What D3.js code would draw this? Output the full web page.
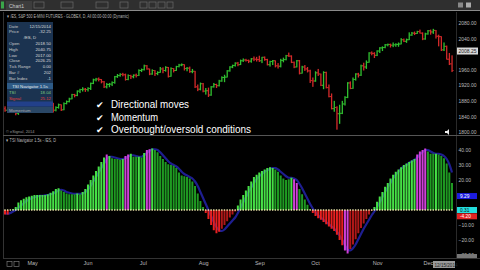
<!DOCTYPE html>
<html>
<head>
<meta charset="utf-8">
<script src="https://d3js.org/d3.v7.min.js"></script>
<style>
  body { margin: 0; background: #000; overflow: hidden; }
  text { font-family: "Liberation Sans", Arial, sans-serif; }
</style>
</head>
<body>
<svg id="chart" width="480" height="270"></svg>
<script>
// daily /ES bars, late Apr - mid Dec 2014
const opens = [1860,1856,1864,1860,1863,1848,1854,1863,
  1869,1868,1866,1870,1853,1863,1860,1863,1882,1882,1873,1856,1863,1870,1857,1873,1878,1885,1896,1894,1905,
  1909,1910,1909,1912,1925,1934,1936,1935,1929,1916,1922,1923,1927,1942,1945,1948,1947,1935,1945,1942,1946,
  1945,1958,1960,1970,1962,1949,1958,1950,1953,1962,1958,1966,1943,1963,1958,1968,1972,1973,1963,1964,1955,1956,
  1916,1910,1924,1905,1906,1895,1916,1922,1919,1931,1940,1941,1957,1967,1971,1977,1973,1983,1985,1984,1982,
  1988,1987,1986,1983,1992,1986,1973,1981,1983,1970,1969,1984,1986,1996,1995,1979,1967,1983,1951,1967,1962,
  1957,1932,1931,1952,1949,1920,1953,1914,1891,1860,1863,1847,1848,1872,1889,1926,1912,1935,1949,1946,1970,1967,1979,
  2003,2002,1997,2008,2016,2017,2024,2025,2023,2024,2025,2026,2037,2033,2037,2049,2054,2053,2058,
  2054,2039,2052,2060,2057,2061,2046,2045,2011,2020,1987,1975];
const highs = [1866,1866,1867,1868,1864,1858,1866,1872,
  1873,1872,1873,1871,1866,1867,1866,1884,1886,1884,1875,1866,1873,1871,1876,1881,1888,1898,1898,1907,1911,
  1915,1913,1915,1927,1937,1939,1940,1936,1931,1926,1926,1930,1944,1949,1951,1952,1950,1948,1947,1948,1950,
  1961,1963,1973,1972,1963,1961,1959,1956,1967,1966,1969,1967,1966,1964,1970,1975,1976,1974,1967,1968,1962,1957,
  1922,1927,1926,1913,1914,1918,1926,1924,1934,1943,1947,1959,1969,1973,1979,1980,1986,1989,1988,1986,1990,
  1994,1993,1996,1993,1994,1988,1983,1985,1984,1977,1988,1991,1998,2004,1997,1981,1985,1985,1970,1972,1967,
  1960,1940,1956,1962,1950,1956,1955,1922,1899,1880,1866,1870,1880,1892,1928,1930,1940,1951,1952,1973,1978,1984,2005,
  2007,2005,2010,2018,2020,2026,2027,2027,2030,2028,2030,2041,2040,2040,2056,2057,2058,2060,2063,
  2056,2055,2062,2063,2065,2062,2050,2046,2030,2022,2003,1997];
const lows = [1852,1854,1856,1855,1843,1844,1852,1860,
  1862,1860,1858,1850,1851,1855,1856,1862,1878,1870,1850,1853,1860,1854,1856,1871,1876,1884,1889,1892,1900,
  1904,1903,1904,1908,1923,1930,1930,1925,1913,1912,1915,1918,1924,1939,1942,1943,1932,1933,1936,1938,1940,
  1944,1954,1958,1960,1946,1947,1944,1946,1952,1951,1955,1940,1942,1953,1957,1966,1969,1958,1956,1952,1951,1913,
  1905,1907,1902,1896,1890,1893,1914,1913,1917,1929,1928,1940,1955,1964,1968,1969,1972,1980,1981,1977,1978,
  1982,1981,1980,1977,1983,1971,1968,1972,1966,1963,1966,1979,1984,1993,1977,1964,1966,1948,1950,1957,1953,
  1926,1916,1929,1944,1918,1910,1912,1889,1858,1852,1806,1821,1846,1868,1887,1910,1911,1932,1940,1944,1958,1962,1978,
  1997,1990,1995,2003,2008,2015,2020,2017,2018,2019,2019,2025,2031,2029,2036,2047,2049,2052,2053,
  2036,2037,2050,2050,2052,2040,2020,2008,2008,1986,1972,1954];
const closes = [1856,1864,1860,1863,1848,1854,1863,1869,
  1868,1866,1870,1853,1863,1860,1863,1882,1882,1873,1856,1863,1870,1857,1873,1878,1885,1896,1894,1905,1909,
  1910,1909,1912,1925,1934,1936,1935,1929,1916,1922,1923,1927,1942,1945,1948,1947,1935,1945,1942,1946,1945,
  1958,1960,1970,1962,1949,1958,1950,1953,1962,1958,1966,1943,1963,1958,1968,1972,1973,1963,1964,1955,1956,1916,
  1910,1924,1905,1906,1895,1916,1922,1919,1931,1940,1941,1957,1967,1971,1977,1973,1983,1985,1984,1982,1988,
  1987,1986,1983,1992,1986,1973,1981,1983,1970,1969,1984,1986,1996,1995,1979,1967,1983,1951,1967,1962,1957,
  1932,1931,1952,1949,1920,1953,1914,1891,1860,1863,1847,1848,1872,1889,1926,1912,1935,1949,1946,1970,1967,1979,2003,
  2002,1997,2008,2016,2017,2024,2025,2023,2024,2025,2026,2037,2033,2037,2049,2054,2053,2058,2054,
  2039,2052,2060,2057,2061,2046,2045,2011,2020,1987,1975,1958];

// TSI Navigator histogram + its signal line
const tsi = [-3,-3,0,0.5,2,5,6.5,7.5,8.5,9,
  9.5,10,10,10,10,10,10.5,11.5,12.5,14,
  14.5,13,12,11,10.5,10.5,10.5,11,10.5,12,
  14,17,20,23,26,29,32,35,37,36,
  34.5,34,34,33.5,34,36,37,37.5,35.5,35.5,
  35.5,35,38,40,40.5,41,40,38.5,36,34,
  32,30.5,30,29.5,28,25,23,22.5,22,21,
  19,16,11,6,2,-2,-6,-10,-13.5,-15.5,
  -14.5,-12.5,-10,-7.5,-5,-3,-1,3,7,10,
  13,16,19,22,23.5,25,26,27,28,28.5,
  28,27,25.5,23,21,20,20.5,21.5,20.5,18,
  14,10.5,7,3.5,0.5,-2,-4,-5.5,-6.5,-8,
  -9.5,-11,-12.5,-14,-16.5,-20,-23.5,-27,-29,-26,
  -23,-19.5,-15.5,-12,-9,-6,-3,-0.5,2,5.5,
  9,12,15.5,18,21,23.5,25.5,27,28.5,30,
  31,32,33,34,37,39,40,41,39,37.5,
  37.5,37.5,37,36,34.5,31,25,18];
const signal = [-2,-2.5,-2,-1,0,1.5,3,4.5,6,7,
  8,8.5,9,9.5,9.5,9.8,10,10.5,11,12,
  13,13.5,13,12,11.5,11,10.8,10.8,10.8,11,
  12,13.5,16,19,22,25,28,31,34,35.5,
  35.5,35,34.5,34,34,34.5,35.5,36.5,36.5,36,
  35.5,35.5,36.5,38,39.5,40.5,40.5,40,38.5,36.5,
  34.5,32.5,31,30,29,27.5,25.5,24,23,22,
  21,19,16,12,8,4,0,-4,-8,-11.5,
  -13.5,-14,-13,-11,-9,-7,-5,-2,1.5,5,
  8.5,12,15,18,20.5,22.5,24,25.5,26.5,27.5,
  28,28,27,25.5,24,22.5,21.5,21.5,21,20,
  17.5,14.5,11,7.5,4,1,-1.5,-3.5,-5,-6.5,
  -8,-9.5,-11,-12.5,-14.5,-17,-20,-23.5,-26.5,-27,
  -25.5,-23,-19.5,-16,-12.5,-9.5,-6.5,-3.5,-1,2,
  5,8.5,12,15,18,21,23.5,25.5,27.5,29,
  30,31.5,32.5,33.5,35,37,38.5,40,40,39,
  38,37.5,37.5,37,36,34,30.5,25];
const tsiMagenta = [38,45,46,53,54,108,109,127,128,154,155,156,157];

const monthNames = ['May','Jun','Jul','Aug','Sep','Oct','Nov','Dec'];
const monthStarts = [8,29,50,72,93,114,137,156];
const priceTicks = [1800,1840,1880,1920,1960,2040,2080];
const tsiTicks = [40,30,20,-10,-20,-30];
const checkItems = ['Directional moves','Momentum','Overbought/oversold conditions'];
const checkWidths = [78,47,140];
const boxRows = [['Date','12/15/2014'],['Price','-32.25'],['','/ES, D'],['Open','2018.50'],
  ['High','2040.75'],['Low','2017.00'],['Close','2026.25'],['Tick Range','0.00'],
  ['Bar #','202'],['Bar Index','-1']];

const svg = d3.select('svg#chart');
const n = closes.length;
const x = d3.scaleLinear().domain([0, n - 1]).range([5, 452]);
const yP = d3.scaleLinear().domain([1800, 2080]).range([132, 23]);
const yT = d3.scaleLinear().domain([-30, 40]).range([255, 150]);
const idx = d3.range(n);

svg.append('rect').attr('width', 480).attr('height', 270).attr('fill', '#000');

// window title strip
const header = svg.append('g');
header.append('rect').attr('width', 480).attr('height', 10).attr('fill', '#2f2f2f');
header.append('rect').attr('x', 1).attr('y', 1.5).attr('width', 3).attr('height', 7).attr('fill', '#3aa64a');
header.append('rect').attr('x', 6).attr('y', 1).attr('width', 26).attr('height', 9).attr('fill', '#3d3d3d');
header.append('text').attr('x', 9).attr('y', 7.5).attr('font-size', 5).attr('fill', '#ccc').text('Chart1');
[[34, 10], [61, 12], [96, 12], [120, 8], [140, 7], [149, 7], [158, 7], [167, 6]].forEach(b => {
  header.append('rect').attr('x', b[0]).attr('y', 2).attr('width', b[1]).attr('height', 6)
     .attr('fill', 'none').attr('stroke', '#6a6a6a').attr('stroke-width', 0.7);
});
header.append('rect').attr('x', 458).attr('y', 2.5).attr('width', 5).attr('height', 5).attr('fill', '#888');
header.append('rect').attr('x', 466).attr('y', 2.5).attr('width', 5).attr('height', 5).attr('fill', '#aaa');
header.append('line').attr('x1', 0).attr('x2', 480).attr('y1', 10.5).attr('y2', 10.5).attr('stroke', '#8a8a8a');

// frame lines
svg.append('line').attr('x1', 3.5).attr('x2', 3.5).attr('y1', 12).attr('y2', 258).attr('stroke', '#333');
svg.append('line').attr('x1', 456.5).attr('x2', 456.5).attr('y1', 12).attr('y2', 258).attr('stroke', '#2a2a2a');
svg.append('line').attr('x1', 3).attr('x2', 480).attr('y1', 135.5).attr('y2', 135.5).attr('stroke', '#555');
svg.append('line').attr('x1', 3).attr('x2', 480).attr('y1', 258.5).attr('y2', 258.5).attr('stroke', '#333');

// price panel
svg.append('clipPath').attr('id', 'pclip').append('rect')
   .attr('x', 4).attr('y', 12).attr('width', 452).attr('height', 123);
const price = svg.append('g').attr('clip-path', 'url(#pclip)');
const bar = price.selectAll('g.bar').data(idx).join('g').attr('class', 'bar')
   .attr('fill', i => closes[i] >= opens[i] ? '#30c030' : '#d42a2a');
bar.append('rect').attr('x', i => x(i) - 0.6).attr('y', i => yP(highs[i]))
   .attr('width', 1.3).attr('height', i => yP(lows[i]) - yP(highs[i]));
bar.append('rect').attr('x', i => x(i) - 1.5).attr('y', i => yP(opens[i]) - 0.5).attr('width', 1.2).attr('height', 1);
bar.append('rect').attr('x', i => x(i) + 0.3).attr('y', i => yP(closes[i]) - 0.5).attr('width', 1.2).attr('height', 1);

svg.append('text').attr('x', 7).attr('y', 18).attr('font-size', 4.5).attr('fill', '#bbb')
   .attr('textLength', 122).attr('lengthAdjust', 'spacingAndGlyphs')
   .text('\u25be /ES, S&P 500 E-MINI FUTURES - GLOBEX, D, All 00:00-00:00 (Dynamic)');
svg.append('text').attr('x', 6).attr('y', 133).attr('font-size', 4).attr('fill', '#999').text('\u00a9 eSignal, 2014');

// cursor data window
const box = svg.append('g');
box.append('rect').attr('x', 7).attr('y', 22).attr('width', 46).attr('height', 91).attr('fill', '#1b3350');
boxRows.forEach((r, k) => {
  const yy = 27.5 + k * 5.8;
  if (r[0] === '') {
    box.append('text').attr('x', 30).attr('y', yy).attr('font-size', 4.3).attr('fill', '#ddd')
       .attr('text-anchor', 'middle').text(r[1]);
  } else {
    box.append('text').attr('x', 9).attr('y', yy).attr('font-size', 4.3).attr('fill', '#ccc').text(r[0]);
    box.append('text').attr('x', 51).attr('y', yy).attr('font-size', 4.3).attr('fill', '#ddd')
       .attr('text-anchor', 'end').text(r[1]);
  }
});
box.append('rect').attr('x', 7).attr('y', 83).attr('width', 46).attr('height', 6).attr('fill', '#2d5a86');
box.append('text').attr('x', 30).attr('y', 87.7).attr('font-size', 4.3).attr('fill', '#eee')
   .attr('text-anchor', 'middle').text('TSI Navigator 1.5s');
box.append('text').attr('x', 9).attr('y', 94).attr('font-size', 4.3).attr('fill', '#7fd07f').text('TSI');
box.append('text').attr('x', 51).attr('y', 94).attr('font-size', 4.3).attr('fill', '#7fd07f').attr('text-anchor', 'end').text('18.04');
box.append('text').attr('x', 9).attr('y', 99.5).attr('font-size', 4.3).attr('fill', '#e04040').text('Signal');
box.append('text').attr('x', 51).attr('y', 99.5).attr('font-size', 4.3).attr('fill', '#e04040').attr('text-anchor', 'end').text('25.12');
box.append('rect').attr('x', 7).attr('y', 101.5).attr('width', 46).attr('height', 5).attr('fill', '#22408a');
box.append('rect').attr('x', 7).attr('y', 107).attr('width', 46).attr('height', 6).attr('fill', '#2a4766');
box.append('text').attr('x', 9).attr('y', 111.5).attr('font-size', 4.3).attr('fill', '#aaa').text('Momentum');

// price axis
const pAxis = svg.append('g').attr('transform', 'translate(457,0)')
   .call(d3.axisRight(yP).tickValues(priceTicks).tickSize(0).tickPadding(1.5).tickFormat(d3.format('.2f')));
pAxis.select('.domain').remove();
pAxis.selectAll('text').attr('font-size', 5).attr('fill', '#bbb').attr('font-family', '"Liberation Sans", Arial');
svg.append('rect').attr('x', 457).attr('y', yP(2008) - 3.5).attr('width', 21).attr('height', 7).attr('fill', '#d8d8d8');
svg.append('text').attr('x', 458.5).attr('y', yP(2008) + 1.8).attr('font-size', 5).attr('fill', '#222').text('2008.25');
svg.append('path').attr('d', 'M445,131 h2 l2,-2 v6 l-2,-2 h-2 z').attr('fill', '#eee');

// overlay text
const notes = svg.append('g');
checkItems.forEach((t, k) => {
  const yy = 108 + k * 12.6;
  notes.append('text').attr('x', 96).attr('y', yy).attr('font-size', 9)
     .attr('font-family', '"DejaVu Sans"').attr('fill', '#fff').text('\u2714');
  notes.append('text').attr('x', 111).attr('y', yy).attr('font-size', 11)
     .attr('font-family', 'Lato, "Open Sans", sans-serif').attr('fill', '#fff')
     .attr('textLength', checkWidths[k]).attr('lengthAdjust', 'spacingAndGlyphs').text(t);
});

// TSI panel
svg.append('text').attr('x', 6).attr('y', 142).attr('font-size', 4.5).attr('fill', '#bbb')
   .attr('textLength', 50).attr('lengthAdjust', 'spacingAndGlyphs').text('\u25be TSI Navigator 1.5s - /ES, D');

svg.append('clipPath').attr('id', 'tclip').append('rect')
   .attr('x', 4).attr('y', 137).attr('width', 452).attr('height', 121);
const tp = svg.append('g').attr('clip-path', 'url(#tclip)');
const sigLine = d3.line().x((d, i) => x(i)).y(d => yT(d)).curve(d3.curveMonotoneX);
tp.append('path').datum(signal).attr('d', sigLine).attr('fill', 'none')
   .attr('stroke', '#1e1e90').attr('stroke-width', 2.2);

const magenta = new Set(tsiMagenta);
const tsiColor = i => {
  if (magenta.has(i)) return '#cf3fd8';
  if (tsi[i] >= 0) return tsi[i] >= signal[i] ? '#46e046' : '#1f9a22';
  return tsi[i] < signal[i] ? '#e82020' : '#b01818';
};
tp.selectAll('rect.tsi').data(idx).join('rect').attr('class', 'tsi')
   .attr('x', i => x(i) - 1).attr('width', 2)
   .attr('y', i => Math.min(yT(tsi[i]), yT(0)))
   .attr('height', i => Math.abs(yT(tsi[i]) - yT(0)))
   .attr('fill', tsiColor);
tp.selectAll('rect.zero').data(idx).join('rect').attr('class', 'zero')
   .attr('x', i => x(i) - 0.7).attr('y', yT(0) - 0.7).attr('width', 1.4).attr('height', 1.4)
   .attr('fill', '#f4f0b0');

const tAxis = svg.append('g').attr('transform', 'translate(457,0)')
   .call(d3.axisRight(yT).tickValues(tsiTicks).tickSize(0).tickPadding(1.5).tickFormat(d3.format('.2f')));
tAxis.select('.domain').remove();
tAxis.selectAll('text').attr('font-size', 5).attr('fill', '#bbb').attr('font-family', '"Liberation Sans", Arial');

const valueBoxes = [[9.3, '#1c1ce0', '#fff', '9.29'], [0, '#22dede', '#111', '0.31'], [-4.2, '#e02222', '#fff', '-4.20']];
valueBoxes.forEach(v => {
  svg.append('rect').attr('x', 457).attr('y', yT(v[0]) - 3).attr('width', 20).attr('height', 6).attr('fill', v[1]);
  svg.append('text').attr('x', 460).attr('y', yT(v[0]) + 1.8).attr('font-size', 4.8).attr('fill', v[2]).text(v[3]);
});

// time axis
const xAxis = svg.append('g').attr('transform', 'translate(0,259)')
   .call(d3.axisBottom(x).tickValues(monthStarts).tickSize(0).tickPadding(2.5)
   .tickFormat((d, k) => monthNames[k]));
xAxis.select('.domain').remove();
xAxis.selectAll('text').attr('font-size', 5.5).attr('fill', '#bbb').attr('text-anchor', 'start')
   .attr('dx', 0.5).attr('font-family', '"Liberation Sans", Arial');
svg.append('rect').attr('x', 433).attr('y', 261).attr('width', 22).attr('height', 7).attr('fill', '#9a9a9a');
svg.append('text').attr('x', 434.5).attr('y', 266.5).attr('font-size', 4.6).attr('fill', '#222').text('12/15/2014');
svg.append('rect').attr('x', 457).attr('y', 254).attr('width', 20).attr('height', 4).attr('fill', '#777');
[7, 14].forEach(bx => {
  svg.append('rect').attr('x', bx).attr('y', 261.5).attr('width', 5).attr('height', 5)
     .attr('fill', 'none').attr('stroke', '#777').attr('stroke-width', 0.7);
});
</script>
</body>
</html>
